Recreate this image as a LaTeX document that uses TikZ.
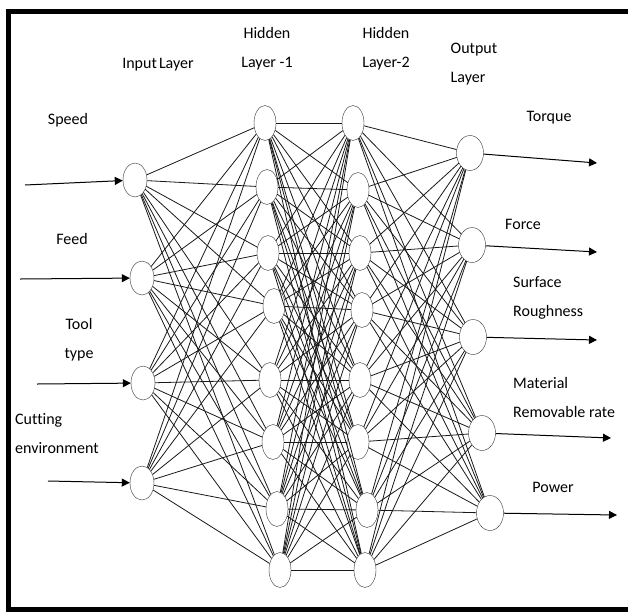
\documentclass[tikz,border=0pt]{standalone}
\usepackage{fontspec}
\setmainfont{Carlito}[Ligatures=NoCommon]
\usepackage{tikz}
\usetikzlibrary{arrows.meta,shapes.geometric}
\tikzset{
  nrn/.style  ={ellipse, draw=black!80, fill=white, thin, inner sep=0pt,
                minimum width=22pt, minimum height=35pt},
  inrn/.style ={nrn, minimum width=24pt, minimum height=34pt},
  onrn/.style ={nrn, minimum width=27pt, minimum height=35pt},
  wire/.style ={black!90, line width=0.8pt},
  arr/.style  ={-{Triangle[length=8pt,width=8pt]}, line width=1pt},
  lbl/.style  ={font=\fontsize{16}{29}\selectfont, inner sep=0pt, align=center},
  lbll/.style ={lbl, align=left, anchor=west},
}

\begin{document}
\begin{tikzpicture}[x=1pt, y=-1pt]
  \useasboundingbox (0,0) rectangle (628,611);
  \clip (0,0) rectangle (628,611);
  \fill[white] (0,0) rectangle (628,611);
  % frame (its right side lies off the page)
  \draw[line width=5.5pt] (650,11.5) -- (8.5,11.5) -- (8.5,610) -- (650,610);

  % input layer
  \node[inrn] (i1) at (135,180) {};
  \node[inrn] (i2) at (142,278) {};
  \node[inrn] (i3) at (143,383) {};
  \node[inrn] (i4) at (142,483) {};
  % hidden layer 1
  \node[nrn] (a1) at (265,123) {};
  \node[nrn] (a2) at (267,187) {};
  \node[nrn] (a3) at (268,253) {};
  \node[nrn] (a4) at (274,306) {};
  \node[nrn] (a5) at (270,380) {};
  \node[nrn] (a6) at (273,442) {};
  \node[nrn] (a7) at (277,509) {};
  \node[nrn] (a8) at (280,570) {};
  % hidden layer 2
  \node[nrn] (b1) at (353,123) {};
  \node[nrn] (b2) at (358,190) {};
  \node[nrn] (b3) at (360,253) {};
  \node[nrn] (b4) at (362,310) {};
  \node[nrn] (b5) at (360,380) {};
  \node[nrn] (b6) at (358,442) {};
  \node[nrn] (b7) at (367,510) {};
  \node[nrn] (b8) at (365,570) {};
  % output layer
  \node[onrn] (o1) at (470,153) {};
  \node[onrn] (o2) at (472,245) {};
  \node[onrn] (o3) at (473,337) {};
  \node[onrn] (o4) at (482,433) {};
  \node[onrn] (o5) at (490,513) {};

  % full connections
  \foreach \s in {1,...,4} \foreach \t in {1,...,8} \draw[wire] (i\s) -- (a\t);
  \foreach \s in {1,...,8} \foreach \t in {1,...,8} \draw[wire] (a\s) -- (b\t);
  \foreach \s in {1,...,8} \foreach \t in {1,...,5} \draw[wire] (b\s) -- (o\t);

  % inputs
  \coordinate (sp) at (25,185);
  \coordinate (fd) at (20,279);
  \coordinate (tt) at (37,384);
  \coordinate (ce) at (48,481);
  \draw[arr] (sp) -- (i1);
  \draw[arr] (fd) -- (i2);
  \draw[arr] (tt) -- (i3);
  \draw[arr] (ce) -- (i4);
  % outputs
  \coordinate (tq) at (597,163);
  \coordinate (fo) at (597,252);
  \coordinate (sr) at (597,340);
  \coordinate (mr) at (611,438);
  \coordinate (pw) at (617,515);
  \draw[arr] (o1) -- (tq);
  \draw[arr] (o2) -- (fo);
  \draw[arr] (o3) -- (sr);
  \draw[arr] (o4) -- (mr);
  \draw[arr] (o5) -- (pw);

  % labels
  \node[lbl] (tin)  at (158,65)  {Input\kern-1.5pt\ Layer};
  \node[lbl] (th1)  at (267,49)  {Hidden\\Layer -1};
  \node[lbl] (th2)  at (386,49)  {Hidden\\Layer-2};
  \node[lbl, align=left] (tout) at (474,64) {Output\\Layer};
  \node[lbl] (lsp)  at (68,120)  {Speed};
  \node[lbl] (lfd)  at (72,239)  {Feed};
  \node[lbl] (ltt)  at (79,340)  {Tool\\type};
  \node[lbll] (lce) at (15,434)  {Cutting\\environment};
  \node[lbl] (ltq)  at (549,118) {Torque};
  \node[lbl] (lfo)  at (523,224) {Force};
  \node[lbll] (lsr) at (513,298) {Surface\\Roughness};
  \node[lbll] (lmr) at (513,397) {Material\\Removable rate};
  \node[lbl] (lpw)  at (553,487) {Power};
\end{tikzpicture}
\end{document}
